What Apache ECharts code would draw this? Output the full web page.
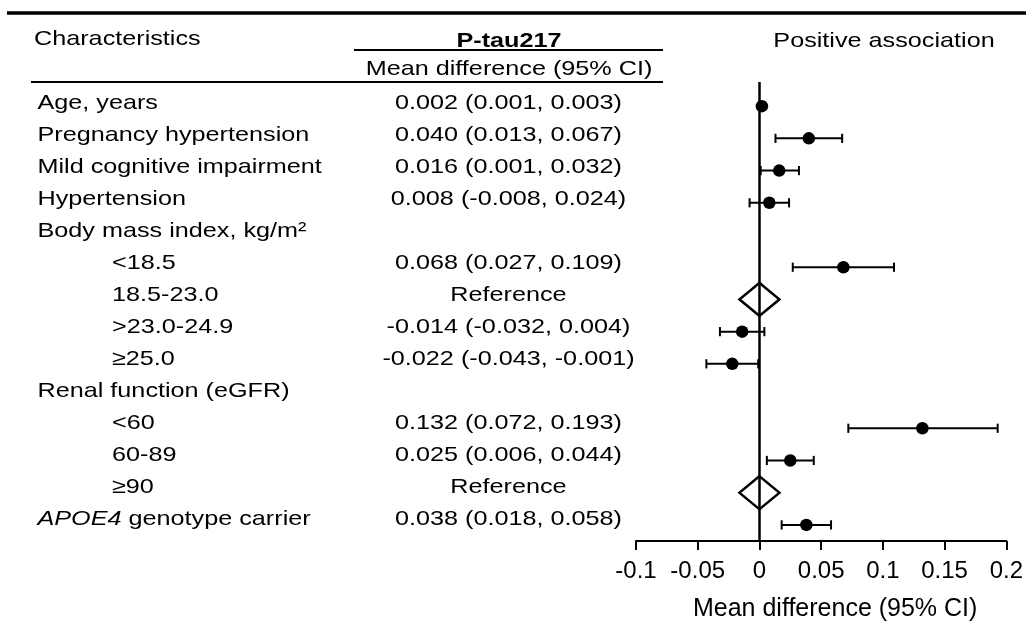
<!DOCTYPE html>
<html>
<head>
<meta charset="utf-8">
<title>P-tau217 forest plot</title>
<script src="https://cdn.jsdelivr.net/npm/echarts@6/dist/echarts.min.js"></script>
<style>
  html, body { margin: 0; padding: 0; background: #fff; }
  #chart { width: 1026px; height: 634px; }
</style>
</head>
<body>
<div id="chart"></div>
<script>
// Table rows (top to bottom)
const characteristics = [
    'Age, years',
    'Pregnancy hypertension',
    'Mild cognitive impairment',
    'Hypertension',
    'Body mass index, kg/m²',
    '<18.5',
    '18.5-23.0',
    '>23.0-24.9',
    '≥25.0',
    'Renal function (eGFR)',
    '<60',
    '60-89',
    '≥90',
    'APOE4 genotype carrier'
];
const indentLevel = [0, 0, 0, 0, 0, 1, 1, 1, 1, 0, 1, 1, 1, 0];
const italicTerms = ['APOE4'];
const meanDiffText = [
    '0.002 (0.001, 0.003)',
    '0.040 (0.013, 0.067)',
    '0.016 (0.001, 0.032)',
    '0.008 (-0.008, 0.024)',
    '',
    '0.068 (0.027, 0.109)',
    'Reference',
    '-0.014 (-0.032, 0.004)',
    '-0.022 (-0.043, -0.001)',
    '',
    '0.132 (0.072, 0.193)',
    '0.025 (0.006, 0.044)',
    'Reference',
    '0.038 (0.018, 0.058)'
];
const estimates = [0.002, 0.040, 0.016, 0.008, null, 0.068, null, -0.014, -0.022, null, 0.132, 0.025, null, 0.038];
const lowerCI = [0.001, 0.013, 0.001, -0.008, null, 0.027, null, -0.032, -0.043, null, 0.072, 0.006, null, 0.018];
const upperCI = [0.003, 0.067, 0.032, 0.024, null, 0.109, null, 0.004, -0.001, null, 0.193, 0.044, null, 0.058];
const referenceRows = [6, 12];
const referenceValue = 0;
const xTickLabels = ['-0.1', '-0.05', '0', '0.05', '0.1', '0.15', '0.2'];

// Look
const FONT_FAMILY = '"Liberation Sans", Arial, Helvetica, sans-serif';
const TABLE_FONT = '21px ' + FONT_FAMILY;
const STRETCH = 1.2;          // the table text is set wide
const CHAR_X = 37.5;
const INDENT_X = 112;
const MD_X = 508.5;

const chart = echarts.init(document.getElementById('chart'), null, { renderer: 'canvas' });

// Series data built from the arrays
const pointData = [];
const errorData = [];
estimates.forEach((v, i) => {
    if (v === null) return;
    pointData.push([v, i]);
    errorData.push([lowerCI[i], upperCI[i], i]);
});
const diamondData = referenceRows.map(i => [referenceValue, i]);
const tableData = characteristics.map((c, i) => [0, i]);

function richLabel(text) {
    let out = text;
    let hasItalic = false;
    italicTerms.forEach(t => {
        if (out.indexOf(t) >= 0) {
            hasItalic = true;
            out = out.replace(t, '{it|' + t + '}{n|');
            out += '}';
        }
    });
    return { text: out, rich: hasItalic };
}

function textEl(x, y, text, align, font) {
    const r = richLabel(text);
    const style = {
        text: r.text,
        x: 0,
        y: 0,
        fill: '#000',
        font: font || TABLE_FONT,
        align: align,
        verticalAlign: 'middle',
        textAlign: align,
        textVerticalAlign: 'middle'
    };
    if (r.rich) {
        style.rich = {
            it: { fontStyle: 'italic', fontSize: 21, fontFamily: FONT_FAMILY, fill: '#000' },
            n: { fontSize: 21, fontFamily: FONT_FAMILY, fill: '#000' }
        };
    }
    return { type: 'text', x: x, y: y, scaleX: STRETCH, style: style, silent: true };
}

function renderTableRow(params, api) {
    const i = params.dataIndex;
    const rowY = api.coord([0, i])[1];
    const children = [textEl(indentLevel[i] ? INDENT_X : CHAR_X, rowY, characteristics[i], 'left')];
    if (meanDiffText[i]) {
        children.push(textEl(MD_X, rowY, meanDiffText[i], 'center'));
    }
    return { type: 'group', children: children };
}

function renderErrorBar(params, api) {
    const lo = api.coord([api.value(0), api.value(2)]);
    const hi = api.coord([api.value(1), api.value(2)]);
    const cap = 4.6;
    const st = { stroke: '#000', lineWidth: 2 };
    return {
        type: 'group',
        children: [
            { type: 'line', shape: { x1: lo[0], y1: lo[1], x2: hi[0], y2: hi[1] }, style: st },
            { type: 'line', shape: { x1: lo[0], y1: lo[1] - cap, x2: lo[0], y2: lo[1] + cap }, style: st },
            { type: 'line', shape: { x1: hi[0], y1: hi[1] - cap, x2: hi[0], y2: hi[1] + cap }, style: st }
        ]
    };
}

const option = {
    backgroundColor: '#fff',
    animation: false,
    grid: [
        { left: 636, width: 375, top: 82, height: 459 },     // plot
        { left: 0, width: 680, top: 87.4, height: 448 }      // table
    ],
    xAxis: [
        {
            gridIndex: 0,
            type: 'value',
            min: -0.1,
            max: 0.2,
            interval: 0.05,
            splitLine: { show: false },
            axisLine: { show: true, onZero: false, lineStyle: { color: '#000', width: 2 } },
            axisTick: { show: true, length: 9, lineStyle: { color: '#000', width: 2 } },
            axisLabel: {
                show: true,
                margin: 18,
                color: '#000',
                fontSize: 24,
                fontFamily: FONT_FAMILY,
                showMinLabel: true,
                showMaxLabel: true,
                formatter: (v, idx) => xTickLabels[idx]
            },
            name: 'Mean difference (95% CI)',
            nameLocation: 'middle',
            nameGap: 56,
            nameTextStyle: { color: '#000', fontSize: 25, fontFamily: FONT_FAMILY, padding: [0, 0, 0, 28] }
        },
        { gridIndex: 1, type: 'value', min: 0, max: 680, show: false }
    ],
    yAxis: [
        { gridIndex: 0, type: 'value', inverse: true, min: -0.75, max: 13.5, show: false },
        { gridIndex: 1, type: 'value', inverse: true, min: -0.5, max: 13.5, show: false }
    ],
    graphic: [
        { type: 'line', shape: { x1: 7, y1: 13, x2: 1026, y2: 13 }, style: { stroke: '#000', lineWidth: 3.5 }, silent: true },
        { type: 'line', shape: { x1: 354, y1: 50, x2: 663, y2: 50 }, style: { stroke: '#000', lineWidth: 2 }, silent: true },
        { type: 'line', shape: { x1: 31, y1: 82, x2: 663, y2: 82 }, style: { stroke: '#000', lineWidth: 2 }, silent: true },
        textEl(34, 39.5, 'Characteristics', 'left'),
        textEl(509, 41, 'P-tau217', 'center', 'bold 21px ' + FONT_FAMILY),
        textEl(509, 69.5, 'Mean difference (95% CI)', 'center'),
        textEl(884, 41.5, 'Positive association', 'center')
    ],
    series: [
        {
            name: 'table',
            type: 'custom',
            xAxisIndex: 1,
            yAxisIndex: 1,
            silent: true,
            renderItem: renderTableRow,
            data: tableData
        },
        {
            name: 'CI',
            type: 'custom',
            xAxisIndex: 0,
            yAxisIndex: 0,
            silent: true,
            renderItem: renderErrorBar,
            encode: { x: [0, 1], y: 2 },
            data: errorData,
            z: 3
        },
        {
            name: 'Reference',
            type: 'scatter',
            xAxisIndex: 0,
            yAxisIndex: 0,
            symbol: 'diamond',
            symbolSize: [40, 33],
            itemStyle: { color: 'rgba(0,0,0,0)', borderColor: '#000', borderWidth: 2.5, opacity: 1 },
            data: diamondData,
            silent: true,
            z: 4
        },
        {
            name: 'Estimate',
            type: 'scatter',
            xAxisIndex: 0,
            yAxisIndex: 0,
            symbol: 'circle',
            symbolSize: 12.5,
            itemStyle: { color: '#000', opacity: 1 },
            data: pointData,
            silent: true,
            z: 5,
            markLine: {
                silent: true,
                symbol: ['none', 'none'],
                label: { show: false },
                lineStyle: { color: '#000', width: 2.5, type: 'solid', opacity: 1 },
                data: [{ xAxis: referenceValue }]
            }
        }
    ]
};

chart.setOption(option);
</script>
</body>
</html>
